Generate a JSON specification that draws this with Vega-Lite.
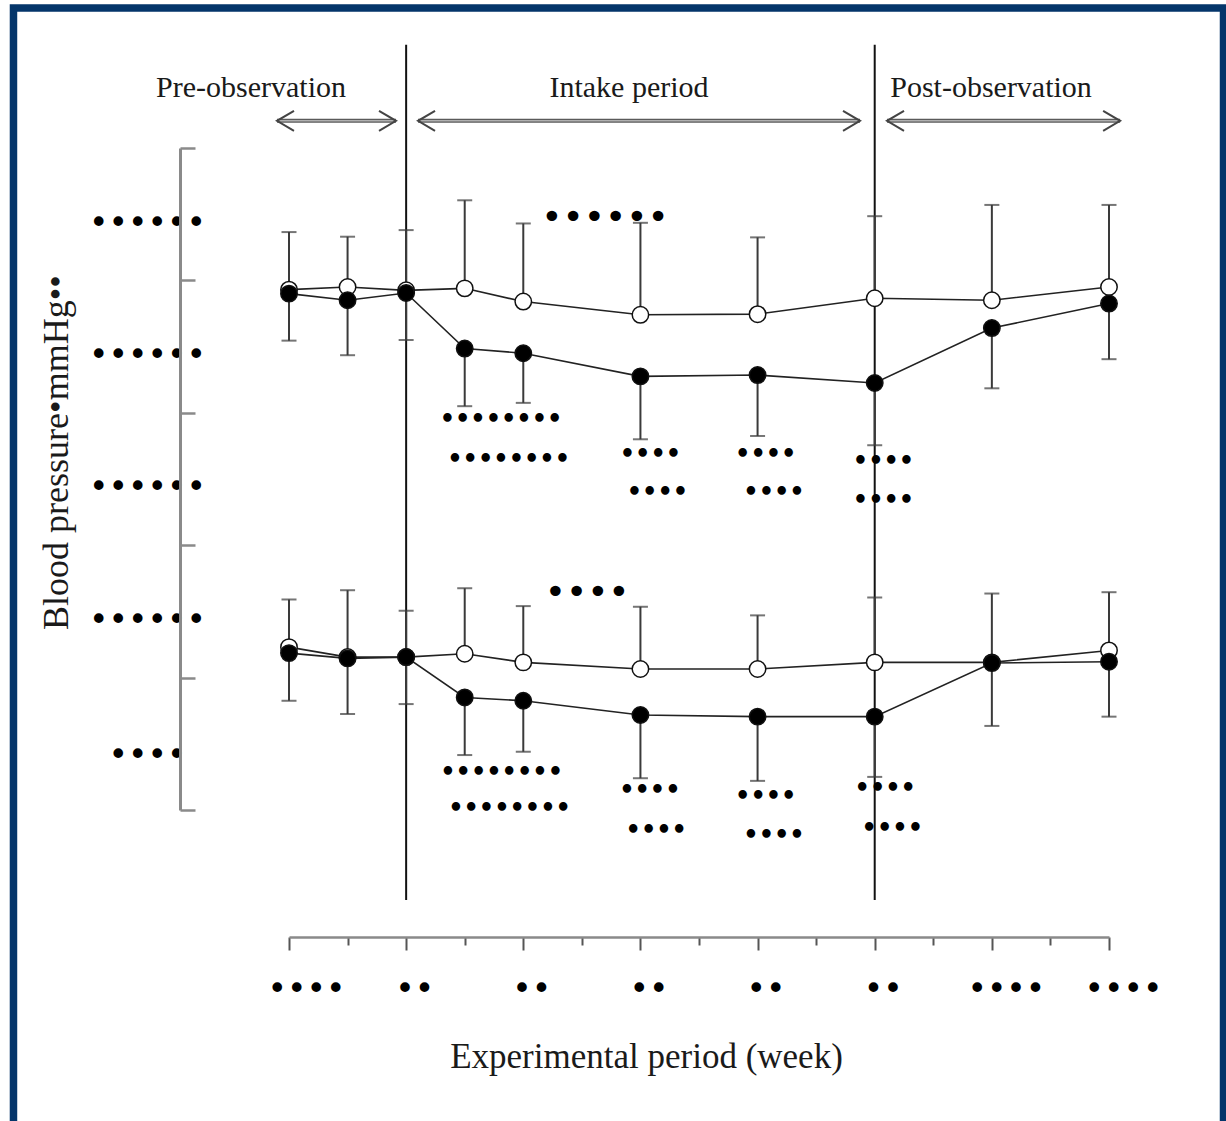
{
  "$schema": "https://vega.github.io/schema/vega-lite/v6.json",
  "width": 820,
  "height": 662,
  "autosize": {"type": "none"},
  "padding": {"left": 289, "top": 148, "right": 117, "bottom": 311},
  "background": "white",
  "config": {"view": {"stroke": null}, "font": "Liberation Serif"},
  "datasets": {
    "bp": [
      {"week": -2, "bp": "SBP", "group": "Placebo", "value": 138.6, "err": 147.3},
      {"week": -1, "bp": "SBP", "group": "Placebo", "value": 139.0, "err": 146.6},
      {"week": 0, "bp": "SBP", "group": "Placebo", "value": 138.5, "err": 147.6},
      {"week": 1, "bp": "SBP", "group": "Placebo", "value": 138.8, "err": 152.1},
      {"week": 2, "bp": "SBP", "group": "Placebo", "value": 136.8, "err": 148.6},
      {"week": 4, "bp": "SBP", "group": "Placebo", "value": 134.8, "err": 148.7},
      {"week": 6, "bp": "SBP", "group": "Placebo", "value": 134.9, "err": 146.5},
      {"week": 8, "bp": "SBP", "group": "Placebo", "value": 137.3, "err": 149.7},
      {"week": 10, "bp": "SBP", "group": "Placebo", "value": 137.0, "err": 151.4},
      {"week": 12, "bp": "SBP", "group": "Placebo", "value": 139.0, "err": 151.4},
      {"week": -2, "bp": "SBP", "group": "Test", "value": 138.0, "err": 130.9},
      {"week": -1, "bp": "SBP", "group": "Test", "value": 137.0, "err": 128.7},
      {"week": 0, "bp": "SBP", "group": "Test", "value": 138.1, "err": 131.0},
      {"week": 1, "bp": "SBP", "group": "Test", "value": 129.7, "err": 121.0},
      {"week": 2, "bp": "SBP", "group": "Test", "value": 129.0, "err": 121.5},
      {"week": 4, "bp": "SBP", "group": "Test", "value": 125.5, "err": 116.0},
      {"week": 6, "bp": "SBP", "group": "Test", "value": 125.7, "err": 116.5},
      {"week": 8, "bp": "SBP", "group": "Test", "value": 124.5, "err": 115.1},
      {"week": 10, "bp": "SBP", "group": "Test", "value": 132.8, "err": 123.7},
      {"week": 12, "bp": "SBP", "group": "Test", "value": 136.5, "err": 128.1},
      {"week": -2, "bp": "DBP", "group": "Placebo", "value": 84.6, "err": 91.8},
      {"week": -1, "bp": "DBP", "group": "Placebo", "value": 83.1, "err": 93.2},
      {"week": 0, "bp": "DBP", "group": "Placebo", "value": 83.1, "err": 90.1},
      {"week": 1, "bp": "DBP", "group": "Placebo", "value": 83.6, "err": 93.5},
      {"week": 2, "bp": "DBP", "group": "Placebo", "value": 82.3, "err": 90.8},
      {"week": 4, "bp": "DBP", "group": "Placebo", "value": 81.3, "err": 90.7},
      {"week": 6, "bp": "DBP", "group": "Placebo", "value": 81.3, "err": 89.4},
      {"week": 8, "bp": "DBP", "group": "Placebo", "value": 82.3, "err": 92.1},
      {"week": 10, "bp": "DBP", "group": "Placebo", "value": 82.3, "err": 92.7},
      {"week": 12, "bp": "DBP", "group": "Placebo", "value": 84.1, "err": 92.9},
      {"week": -2, "bp": "DBP", "group": "Test", "value": 83.7, "err": 76.5},
      {"week": -1, "bp": "DBP", "group": "Test", "value": 82.9, "err": 74.5},
      {"week": 0, "bp": "DBP", "group": "Test", "value": 83.1, "err": 76.0},
      {"week": 1, "bp": "DBP", "group": "Test", "value": 77.0, "err": 68.3},
      {"week": 2, "bp": "DBP", "group": "Test", "value": 76.5, "err": 68.8},
      {"week": 4, "bp": "DBP", "group": "Test", "value": 74.35, "err": 64.8},
      {"week": 6, "bp": "DBP", "group": "Test", "value": 74.1, "err": 64.4},
      {"week": 8, "bp": "DBP", "group": "Test", "value": 74.1, "err": 65.0},
      {"week": 10, "bp": "DBP", "group": "Test", "value": 82.2, "err": 72.7},
      {"week": 12, "bp": "DBP", "group": "Test", "value": 82.4, "err": 74.1}
    ],
    "phases": [{"week": 0}, {"week": 8}],
    "periods": [
      {"period": "Pre-observation", "label_week": -2.649, "start": -2.205, "end": -0.173},
      {"period": "Intake period", "label_week": 3.805, "start": 0.203, "end": 7.749},
      {"period": "Post-observation", "label_week": 9.986, "start": 8.21, "end": 12.19}
    ],
    "marks_narrow": [
      {"text": "••••••••", "week": 1.62, "value": 118.9},
      {"text": "••••••••", "week": 1.75, "value": 112.9},
      {"text": "••••", "week": 4.17, "value": 113.6},
      {"text": "••••", "week": 4.29, "value": 107.85},
      {"text": "••••", "week": 6.14, "value": 113.6},
      {"text": "••••", "week": 6.28, "value": 107.9},
      {"text": "••••", "week": 8.15, "value": 112.6},
      {"text": "••••", "week": 8.15, "value": 106.7},
      {"text": "••••••••", "week": 1.63, "value": 65.6},
      {"text": "••••••••", "week": 1.765, "value": 60.2},
      {"text": "••••", "week": 4.16, "value": 62.8},
      {"text": "••••", "week": 4.27, "value": 56.8},
      {"text": "••••", "week": 6.14, "value": 62.0},
      {"text": "••••", "week": 6.28, "value": 56.0},
      {"text": "••••", "week": 8.18, "value": 63.2},
      {"text": "••••", "week": 8.30, "value": 57.1}
    ],
    "marks_wide": [
      {"text": "••••••", "week": 3.395, "value": 149.4},
      {"text": "••••", "week": 3.09, "value": 92.8}
    ]
  },
  "layer": [
    {
      "data": {"name": "bp"},
      "mark": {"type": "line", "color": "#222222", "strokeWidth": 1.6},
      "encoding": {
        "x": {
          "field": "week", "type": "quantitative",
          "scale": {"domain": [-2, 12], "nice": false, "zero": false},
          "axis": {
            "orient": "bottom", "offset": 127,
            "values": [-2, -1, 0, 1, 2, 3, 4, 5, 6, 7, 8, 9, 10, 11, 12],
            "domainColor": "#8a8a8a", "domainWidth": 2.5,
            "tickColor": "#555555", "tickWidth": 2,
            "tickSize": {"condition": {"test": "datum.value % 2 == 0", "value": 13}, "value": 8},
            "labelExpr": "(datum.value == -2 || datum.value == 10 || datum.value == 12) ? '••••' : (datum.value % 2 == 0 ? '••' : '')",
            "labelFont": "DejaVu Sans", "labelFontSize": 33, "labelColor": "#000000",
            "labelPadding": 39, "labelBaseline": "middle", "labelAlign": "center",
            "labelOffset": {"condition": [{"test": "datum.value == -2", "value": 17}, {"test": "datum.value >= 10", "value": 14}], "value": 8},
            "labelOverlap": false, "labelFlush": false, "labelBound": false,
            "grid": false, "zindex": 1,
            "title": "Experimental period (week)",
            "titleFont": "Liberation Serif", "titleFontSize": 35, "titleFontWeight": "normal", "titleColor": "#1a1a1a",
            "titleX": 357, "titleY": 130, "titleAlign": "center", "titleBaseline": "alphabetic"
          }
        },
        "y": {
          "field": "value", "type": "quantitative",
          "scale": {"domain": [60, 160], "nice": false, "zero": false},
          "axis": {
            "orient": "left", "offset": 109,
            "values": [60, 80, 100, 120, 140, 160],
            "domainColor": "#8a8a8a", "domainWidth": 3,
            "tickColor": "#8a8a8a", "tickWidth": 2.5, "tickSize": -15,
            "labelExpr": "datum.value == 60 ? '' : (datum.value == 80 ? '••••' : '••••••')",
            "labelFont": "DejaVu Sans", "labelFontSize": 33, "labelColor": "#000000",
            "labelAlign": "center", "labelBaseline": "middle",
            "labelPadding": 48, "labelOffset": {"condition": {"test": "datum.value == 80", "value": 78}, "value": 75},
            "labelOverlap": false, "labelFlush": false, "labelBound": false,
            "grid": false, "zindex": 1,
            "title": "Blood pressure•mmHg••",
            "titleFont": "Liberation Serif", "titleFontSize": 36, "titleFontWeight": "normal", "titleColor": "#1a1a1a",
            "titleAngle": -90, "titleX": -113, "titleY": 304, "titleAlign": "center", "titleBaseline": "alphabetic"
          }
        },
        "detail": [{"field": "bp"}, {"field": "group"}]
      }
    },
    {
      "data": {"values": [{}]},
      "mark": {"type": "rect", "filled": false, "stroke": "#04356a", "strokeWidth": 7.5},
      "encoding": {
        "x": {"datum": -6.704, "type": "quantitative", "scale": {"domain": [-2, 12], "nice": false, "zero": false}},
        "x2": {"datum": 13.955},
        "y": {"datum": 181.15, "type": "quantitative", "scale": {"domain": [60, 160], "nice": false, "zero": false}},
        "y2": {"datum": 10}
      }
    },
    {
      "data": {"name": "phases"},
      "mark": {"type": "rule", "color": "#111111", "strokeWidth": 2},
      "encoding": {
        "x": {"field": "week", "type": "quantitative", "scale": {"domain": [-2, 12], "nice": false, "zero": false}},
        "y": {"datum": 175.6, "type": "quantitative", "scale": {"domain": [60, 160], "nice": false, "zero": false}},
        "y2": {"datum": 46.4}
      }
    },
    {
      "data": {"name": "periods"},
      "mark": {"type": "rule", "color": "#5a5a5a", "strokeWidth": 4},
      "encoding": {
        "x": {"field": "start", "type": "quantitative", "scale": {"domain": [-2, 12], "nice": false, "zero": false}},
        "x2": {"field": "end"},
        "y": {"datum": 164.1, "type": "quantitative", "scale": {"domain": [60, 160], "nice": false, "zero": false}}
      }
    },
    {
      "data": {"name": "periods"},
      "mark": {"type": "rule", "color": "#b0b0b0", "strokeWidth": 1.5},
      "encoding": {
        "x": {"field": "start", "type": "quantitative", "scale": {"domain": [-2, 12], "nice": false, "zero": false}},
        "x2": {"field": "end"},
        "y": {"datum": 164.1, "type": "quantitative", "scale": {"domain": [60, 160], "nice": false, "zero": false}}
      }
    },
    {
      "data": {"name": "periods"},
      "mark": {"type": "point", "shape": "M1.7,-1L0,0L1.7,1", "size": 400, "filled": false, "stroke": "#444444", "strokeWidth": 2, "opacity": 1},
      "encoding": {
        "x": {"field": "start", "type": "quantitative", "scale": {"domain": [-2, 12], "nice": false, "zero": false}},
        "y": {"datum": 164.1, "type": "quantitative", "scale": {"domain": [60, 160], "nice": false, "zero": false}}
      }
    },
    {
      "data": {"name": "periods"},
      "mark": {"type": "point", "shape": "M-1.7,-1L0,0L-1.7,1", "size": 400, "filled": false, "stroke": "#444444", "strokeWidth": 2, "opacity": 1},
      "encoding": {
        "x": {"field": "end", "type": "quantitative", "scale": {"domain": [-2, 12], "nice": false, "zero": false}},
        "y": {"datum": 164.1, "type": "quantitative", "scale": {"domain": [60, 160], "nice": false, "zero": false}}
      }
    },
    {
      "data": {"name": "periods"},
      "mark": {"type": "text", "font": "Liberation Serif", "fontSize": 30, "color": "#1a1a1a", "align": "center", "baseline": "alphabetic"},
      "encoding": {
        "x": {"field": "label_week", "type": "quantitative", "scale": {"domain": [-2, 12], "nice": false, "zero": false}},
        "y": {"datum": 167.7, "type": "quantitative", "scale": {"domain": [60, 160], "nice": false, "zero": false}},
        "text": {"field": "period"}
      }
    },
    {
      "data": {"name": "bp"},
      "mark": {"type": "rule", "color": "#3a3a3a", "strokeWidth": 2},
      "encoding": {
        "x": {"field": "week", "type": "quantitative", "scale": {"domain": [-2, 12], "nice": false, "zero": false}},
        "y": {"field": "value", "type": "quantitative", "scale": {"domain": [60, 160], "nice": false, "zero": false}},
        "y2": {"field": "err"}
      }
    },
    {
      "data": {"name": "bp"},
      "mark": {"type": "tick", "orient": "horizontal", "color": "#3a3a3a", "size": 15, "thickness": 2},
      "encoding": {
        "x": {"field": "week", "type": "quantitative", "scale": {"domain": [-2, 12], "nice": false, "zero": false}},
        "y": {"field": "err", "type": "quantitative", "scale": {"domain": [60, 160], "nice": false, "zero": false}}
      }
    },
    {
      "data": {"name": "bp"},
      "mark": {"type": "point", "shape": "circle", "filled": true, "size": 270, "stroke": "#111111", "strokeWidth": 1.5, "opacity": 1},
      "encoding": {
        "x": {"field": "week", "type": "quantitative", "scale": {"domain": [-2, 12], "nice": false, "zero": false}},
        "y": {"field": "value", "type": "quantitative", "scale": {"domain": [60, 160], "nice": false, "zero": false}},
        "fill": {"field": "group", "type": "nominal", "scale": {"domain": ["Placebo", "Test"], "range": ["#ffffff", "#000000"]}, "legend": null},
        "order": {"field": "group", "sort": "ascending"}
      }
    },
    {
      "data": {"name": "marks_narrow"},
      "mark": {"type": "text", "font": "DejaVu Sans", "fontSize": 24, "fontWeight": "bold", "color": "#000000", "align": "center", "baseline": "middle"},
      "encoding": {
        "x": {"field": "week", "type": "quantitative", "scale": {"domain": [-2, 12], "nice": false, "zero": false}},
        "y": {"field": "value", "type": "quantitative", "scale": {"domain": [60, 160], "nice": false, "zero": false}},
        "text": {"field": "text"}
      }
    },
    {
      "data": {"name": "marks_wide"},
      "mark": {"type": "text", "font": "DejaVu Sans", "fontSize": 36, "color": "#000000", "align": "center", "baseline": "middle"},
      "encoding": {
        "x": {"field": "week", "type": "quantitative", "scale": {"domain": [-2, 12], "nice": false, "zero": false}},
        "y": {"field": "value", "type": "quantitative", "scale": {"domain": [60, 160], "nice": false, "zero": false}},
        "text": {"field": "text"}
      }
    }
  ]
}
